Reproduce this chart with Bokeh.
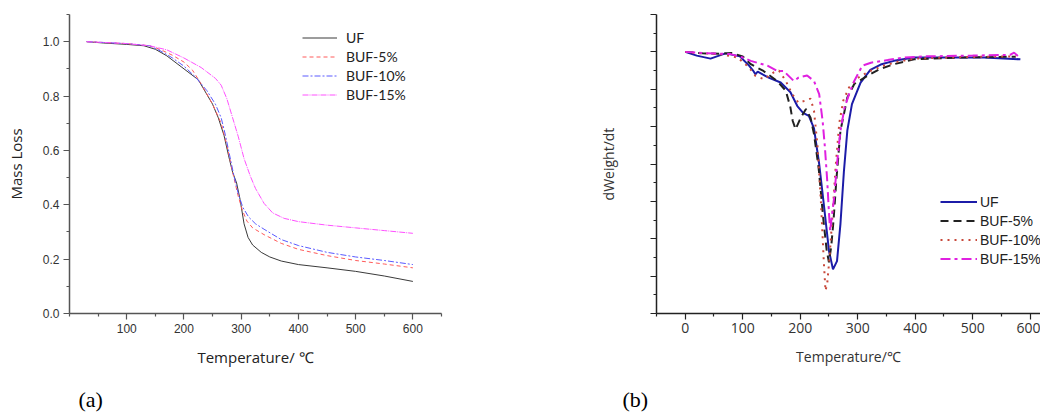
from bokeh.plotting import figure
from bokeh.layouts import row, column
from bokeh.models import (FixedTicker, PrintfTickFormatter, CustomJSTickFormatter,
                          Legend, LegendItem, Label, Range1d)
from bokeh.embed import file_html
from bokeh.resources import INLINE

# ---------------- (a) TG data ----------------
uf_t = [30, 60, 100, 130, 150, 170, 195, 225, 250, 260, 270, 278, 285, 292, 298, 305, 312, 320, 335, 350, 370, 400, 450, 500, 550, 600]
uf_m = [1.0, 0.995, 0.99, 0.985, 0.972, 0.948, 0.908, 0.86, 0.77, 0.72, 0.655, 0.58, 0.52, 0.48, 0.42, 0.33, 0.28, 0.252, 0.225, 0.208, 0.193, 0.18, 0.168, 0.155, 0.138, 0.118]

b5_t = [30, 100, 140, 160, 180, 200, 215, 230, 250, 265, 275, 285, 295, 302, 310, 320, 340, 370, 400, 450, 500, 550, 600]
b5_m = [1.0, 0.993, 0.985, 0.97, 0.95, 0.925, 0.895, 0.845, 0.77, 0.7, 0.62, 0.52, 0.43, 0.38, 0.34, 0.315, 0.29, 0.258, 0.236, 0.213, 0.195, 0.182, 0.168]

b10_t = [30, 100, 140, 160, 180, 200, 220, 240, 255, 265, 272, 280, 288, 295, 303, 313, 325, 340, 370, 400, 450, 500, 550, 600]
b10_m = [1.0, 0.993, 0.985, 0.965, 0.94, 0.91, 0.87, 0.82, 0.77, 0.72, 0.66, 0.58, 0.5, 0.44, 0.39, 0.355, 0.33, 0.31, 0.272, 0.25, 0.225, 0.208, 0.195, 0.18]

b15_t = [30, 100, 140, 170, 200, 230, 255, 265, 275, 285, 295, 305, 316, 325, 340, 355, 375, 400, 450, 500, 550, 600]
b15_m = [1.0, 0.993, 0.985, 0.97, 0.94, 0.905, 0.865, 0.84, 0.79, 0.72, 0.65, 0.57, 0.505, 0.46, 0.405, 0.37, 0.35, 0.338, 0.325, 0.315, 0.305, 0.295]

# ---------------- (b) DTG data ----------------
duf_t = [0, 20, 44, 70, 95, 110, 118, 122, 126, 145, 166, 183, 195, 205, 215, 224, 233, 241, 250, 257, 264, 270, 276, 282, 290, 305, 322, 340, 363, 398, 450, 520, 583]
duf_v = [0, -0.1, -0.18, -0.04, -0.12, -0.35, -0.5, -0.6, -0.53, -0.69, -0.82, -1.08, -1.45, -1.63, -1.71, -2.05, -3.0, -4.07, -5.32, -5.82, -5.6, -4.6, -3.2, -2.1, -1.4, -0.82, -0.48, -0.34, -0.24, -0.15, -0.15, -0.15, -0.2]

d5_t = [0, 30, 60, 80, 100, 114, 136, 160, 175, 183, 187, 192, 201, 210, 218, 224, 232, 241, 246, 250, 254, 258, 263, 270, 282, 294, 317, 340, 363, 398, 480, 575]
d5_v = [0, -0.04, -0.05, -0.03, -0.12, -0.33, -0.51, -0.78, -1.04, -1.49, -1.85, -2.07, -1.76, -1.53, -1.76, -2.2, -3.1, -4.6, -5.3, -5.63, -5.2, -4.5, -3.4, -2.11, -1.22, -0.86, -0.64, -0.45, -0.33, -0.2, -0.15, -0.13]

d10_t = [0, 30, 60, 91, 110, 122, 137, 154, 163, 175, 186, 197, 210, 218, 224, 230, 236, 241, 244, 247, 251, 256, 262, 268, 275, 285, 300, 320, 345, 370, 400, 480, 575]
d10_v = [0, -0.04, -0.06, -0.15, -0.4, -0.64, -0.73, -0.55, -0.5, -0.78, -1.13, -1.36, -1.3, -1.25, -1.58, -2.5, -4.0, -5.6, -6.39, -6.2, -5.5, -4.4, -3.0, -1.9, -1.3, -0.95, -0.7, -0.52, -0.37, -0.26, -0.18, -0.14, -0.12]

d15_t = [0, 30, 60, 79, 100, 114, 143, 160, 171, 189, 197, 212, 224, 233, 239, 243, 247, 250, 252, 255, 259, 264, 270, 277, 285, 294, 308, 323, 352, 380, 420, 500, 565, 572, 580]
d15_v = [0, -0.03, -0.05, -0.06, -0.15, -0.24, -0.37, -0.51, -0.51, -0.78, -0.69, -0.63, -0.78, -1.13, -1.85, -2.56, -3.45, -4.3, -4.79, -4.4, -3.9, -3.0, -2.11, -1.5, -1.13, -0.78, -0.37, -0.29, -0.22, -0.15, -0.12, -0.1, -0.08, -0.02, -0.13]

names = ["UF", "BUF-5%", "BUF-10%", "BUF-15%"]
panel_labels = ["(a)", "(b)"]

W1, W2 = 560, 480
H = 386      # main figures
HL = 26      # strip holding the (a)/(b) captions

# ================= panel (a) =================
p1 = figure(width=W1, height=H, output_backend="svg", toolbar_location=None,
            x_range=Range1d(0, 650), y_range=Range1d(0, 1.1),
            min_border_left=69, min_border_right=119, min_border_top=11, min_border_bottom=H - 11 - 302)
p1.outline_line_color = None
p1.xgrid.visible = False
p1.ygrid.visible = False

r1 = p1.line(uf_t, uf_m, line_color="#3a3a3a", line_width=1)
r2 = p1.line(b5_t, b5_m, line_color="#ff5a5a", line_width=1, line_dash="4 3")
r3 = p1.line(b10_t, b10_m, line_color="#5a5aff", line_width=1, line_dash="6 2 2 2")
r4 = p1.line(b15_t, b15_m, line_color="#ff50ff", line_width=1, line_dash="6 1 1 1")

for ax in (p1.xaxis[0], p1.yaxis[0]):
    ax.axis_line_color = "#555555"
    ax.axis_line_width = 1.5
    ax.major_tick_line_color = "#555555"
    ax.minor_tick_line_color = "#555555"
    ax.major_tick_line_width = 1.2
    ax.minor_tick_line_width = 1.2
    ax.major_tick_out = 6
    ax.major_tick_in = 0
    ax.minor_tick_out = 3
    ax.minor_tick_in = 0
    ax.major_label_text_font = "Liberation Sans"
    ax.major_label_text_font_size = "12px"
    ax.major_label_text_color = "#333333"
    ax.axis_label_text_font = "Open Sans"
    ax.axis_label_text_font_size = "15px"
    ax.axis_label_text_font_style = "normal"
    ax.axis_label_text_color = "#222222"

p1.xaxis[0].ticker = FixedTicker(ticks=[100, 200, 300, 400, 500, 600],
                                 minor_ticks=[0, 50, 150, 250, 350, 450, 550, 650])
p1.yaxis[0].ticker = FixedTicker(ticks=[0.0, 0.2, 0.4, 0.6, 0.8, 1.0],
                                 minor_ticks=[0.1, 0.3, 0.5, 0.7, 0.9, 1.1])
p1.yaxis[0].formatter = PrintfTickFormatter(format="%.1f")
p1.xaxis[0].axis_label = "Temperature/ ℃"
p1.yaxis[0].axis_label = "Mass Loss"
p1.xaxis[0].major_label_standoff = 4
p1.xaxis[0].axis_label_standoff = 11
p1.yaxis[0].major_label_standoff = 4
p1.yaxis[0].axis_label_standoff = 14

leg1 = Legend(items=[LegendItem(label=n, renderers=[r]) for n, r in zip(names, [r1, r2, r3, r4])],
              location=(233, 210), orientation="vertical")
leg1.glyph_width = 35
leg1.glyph_height = 17
leg1.label_height = 17
leg1.spacing = 2
leg1.padding = 0
leg1.margin = 0
leg1.label_standoff = 9
leg1.label_text_font = "Lato"
leg1.label_text_font_size = "14px"
leg1.label_text_color = "#222222"
leg1.background_fill_alpha = 0
leg1.border_line_alpha = 0
p1.add_layout(leg1)

# ================= panel (b) =================
p2 = figure(width=W2, height=H, output_backend="svg", toolbar_location=None,
            x_range=Range1d(-50, 618), y_range=Range1d(-7, 1),
            min_border_left=96, min_border_right=0, min_border_top=14, min_border_bottom=H - 14 - 300)
p2.outline_line_color = None
p2.xgrid.visible = False
p2.ygrid.visible = False

s1 = p2.line(duf_t, duf_v, line_color="#1c1ca8", line_width=2)
s2 = p2.line(d5_t, d5_v, line_color="#222222", line_width=2, line_dash="8 5")
s3 = p2.line(d10_t, d10_v, line_color="#c8483a", line_width=2, line_dash="2 5")
s4 = p2.line(d15_t, d15_v, line_color="#e020e0", line_width=2, line_dash="10 4 3 4")

for ax in (p2.xaxis[0], p2.yaxis[0]):
    ax.axis_line_color = "#222222"
    ax.axis_line_width = 1.5
    ax.major_tick_line_color = "#222222"
    ax.minor_tick_line_color = "#222222"
    ax.major_tick_line_width = 1.2
    ax.minor_tick_line_width = 1.2
    ax.major_tick_out = 6
    ax.major_tick_in = 0
    ax.minor_tick_out = 3
    ax.minor_tick_in = 0
    ax.major_label_text_font = "Open Sans"
    ax.major_label_text_font_size = "14px"
    ax.major_label_text_color = "#333333"
    ax.axis_label_text_font = "Open Sans"
    ax.axis_label_text_font_size = "14px"
    ax.axis_label_text_font_style = "normal"
    ax.axis_label_text_color = "#333333"

p2.xaxis[0].ticker = FixedTicker(ticks=[0, 100, 200, 300, 400, 500, 600],
                                 minor_ticks=[-50, 50, 150, 250, 350, 450, 550])
p2.yaxis[0].ticker = FixedTicker(ticks=[-7, -6, -5, -4, -3, -2, -1, 0, 1],
                                 minor_ticks=[-6.5, -5.5, -4.5, -3.5, -2.5, -1.5, -0.5, 0.5])
p2.yaxis[0].formatter = CustomJSTickFormatter(code="return ''")
p2.xaxis[0].axis_label = "Temperature/℃"
p2.yaxis[0].axis_label = "dWeight/dt"
p2.xaxis[0].major_label_standoff = 3
p2.xaxis[0].axis_label_standoff = 11
p2.yaxis[0].major_label_standoff = 5
p2.yaxis[0].axis_label_standoff = 33

leg2 = Legend(items=[LegendItem(label=n, renderers=[r]) for n, r in zip(names, [s1, s2, s3, s4])],
              location=(284, 46), orientation="vertical")
leg2.glyph_width = 37
leg2.glyph_height = 17
leg2.label_height = 17
leg2.spacing = 2
leg2.padding = 0
leg2.margin = 0
leg2.label_standoff = 3
leg2.label_text_font = "Liberation Sans"
leg2.label_text_font_size = "14px"
leg2.label_text_color = "#222222"
leg2.background_fill_alpha = 0
leg2.border_line_alpha = 0
p2.add_layout(leg2)

# ================= caption strips =================
def caption_strip(w, text, x_pos):
    c = figure(width=w, height=HL, output_backend="svg", toolbar_location=None,
               x_range=Range1d(0, w), y_range=Range1d(0, HL), min_border=0)
    c.axis.visible = False
    c.xgrid.visible = False
    c.ygrid.visible = False
    c.outline_line_color = None
    c.add_layout(Label(x=x_pos, y=HL / 2, text=text, text_font="Liberation Serif",
                       text_font_size="22px", text_baseline="middle", text_align="left",
                       text_color="black"))
    return c

c1 = caption_strip(W1, panel_labels[0], 78)
c2 = caption_strip(W2, panel_labels[1], 62)

layout = column(row(p1, p2), row(c1, c2))
open("out.html", "w").write(file_html(layout, INLINE))
